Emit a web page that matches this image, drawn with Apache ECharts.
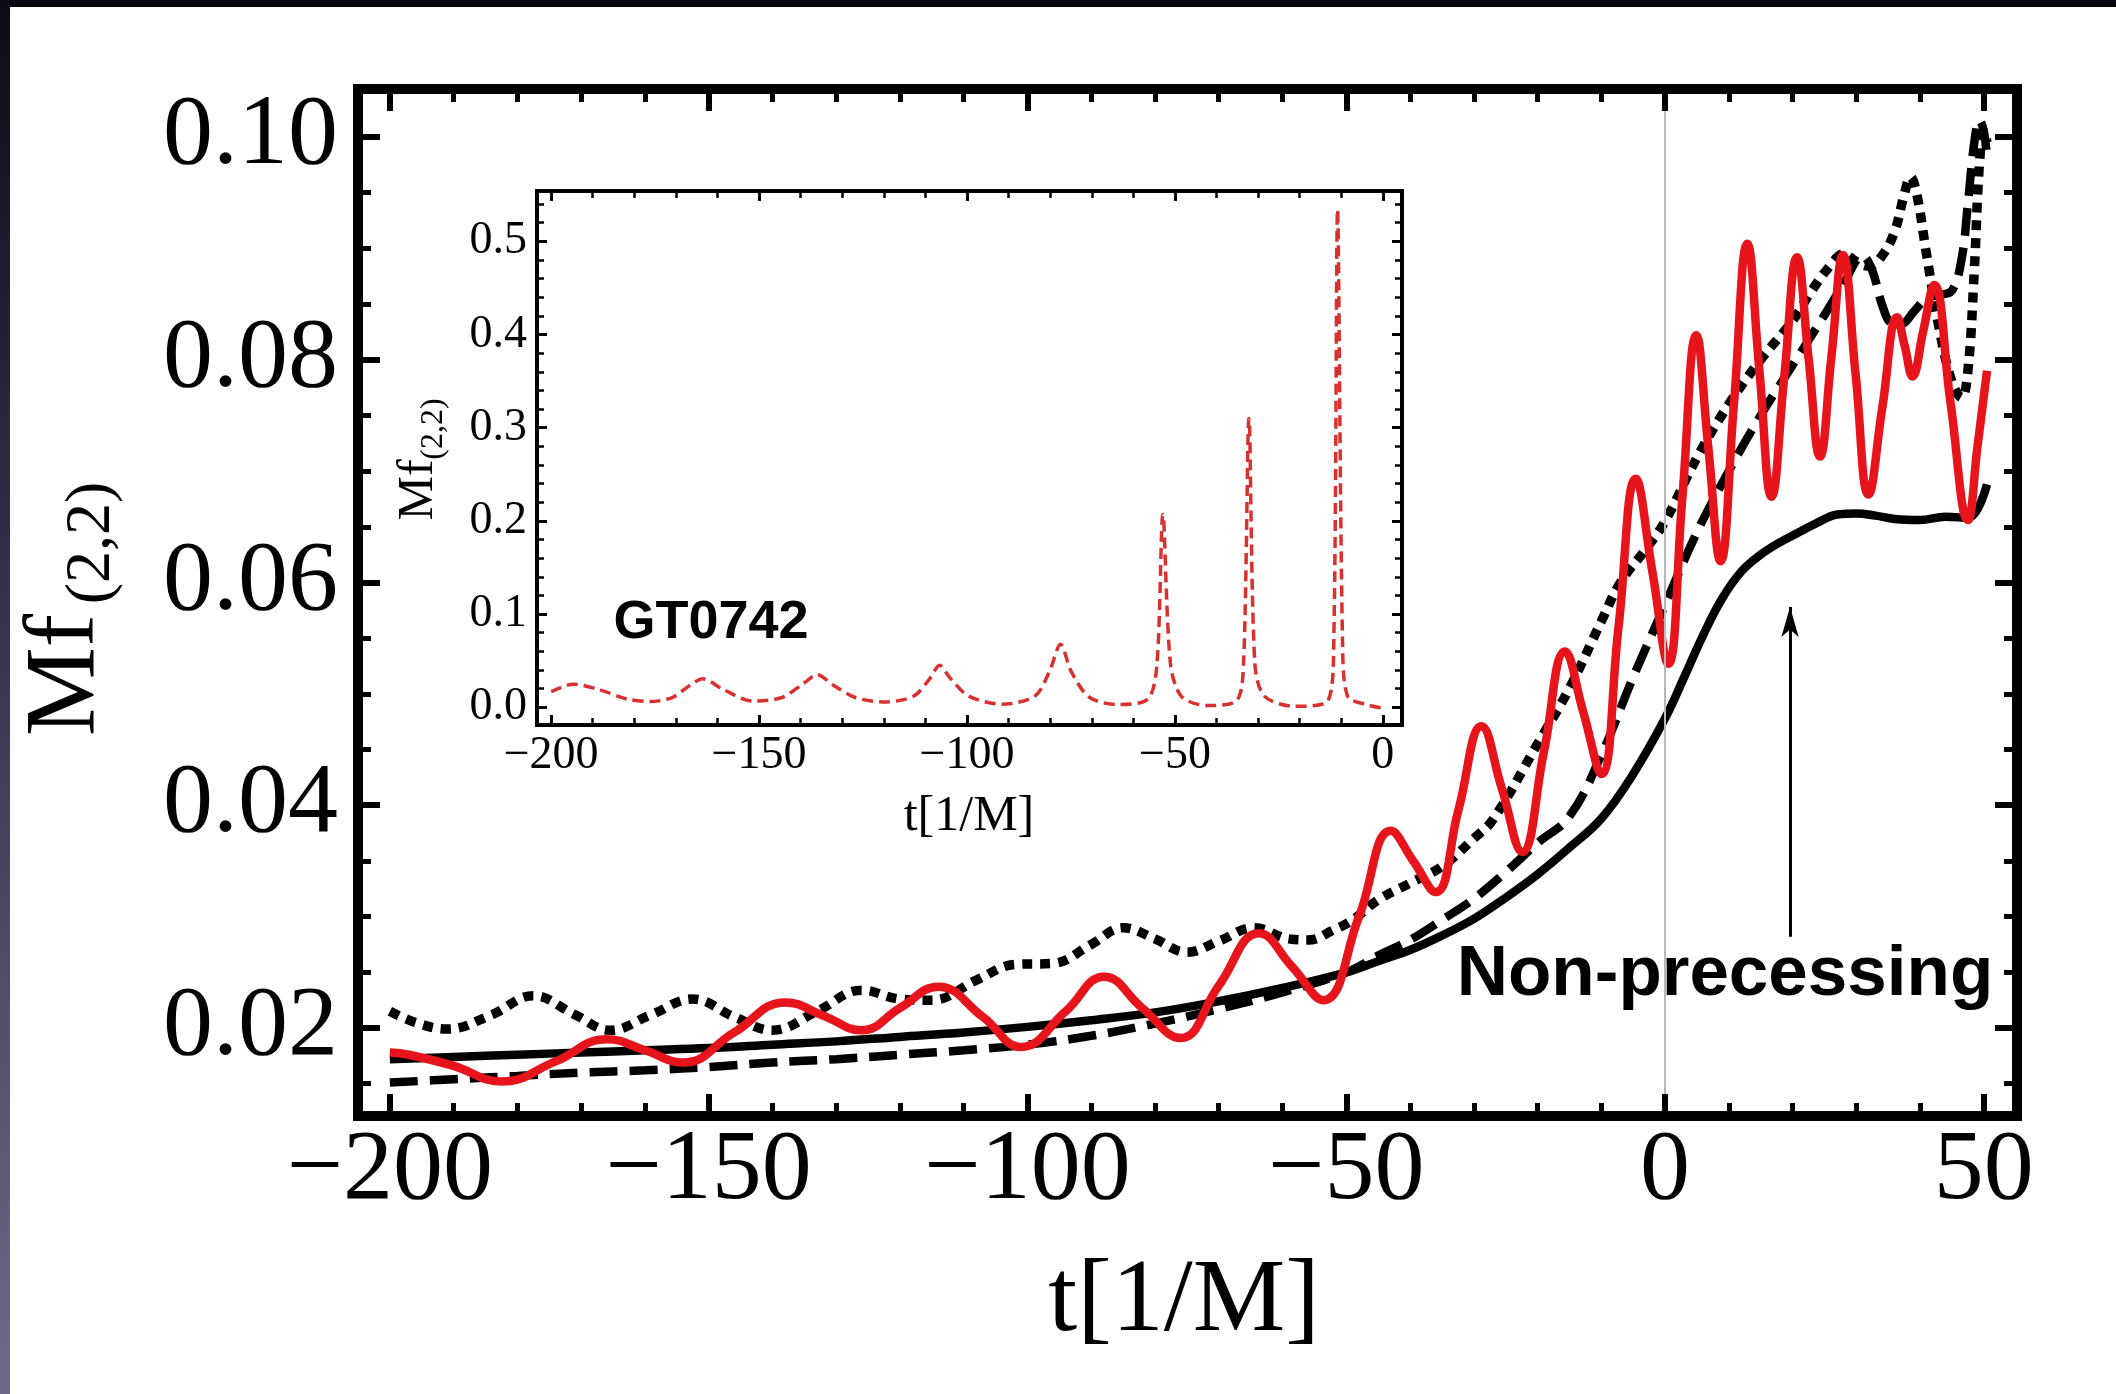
<!DOCTYPE html>
<html><head><meta charset="utf-8">
<script src="https://cdn.jsdelivr.net/npm/echarts@6/dist/echarts.min.js"></script>
<style>html,body{margin:0;padding:0;background:#fff;} #c{width:2116px;height:1394px;}</style>
</head><body><div id="c"></div>
<script>
// ---------- tick labels ----------
const mainXTicks = [-200, -150, -100, -50, 0, 50];
const mainYTicks = [0.02, 0.04, 0.06, 0.08, 0.10];
const insetXTicks = [-200, -150, -100, -50, 0];
const insetYTicks = [0.0, 0.1, 0.2, 0.3, 0.4, 0.5];

// ---------- main series (t, Mf) ----------
const solidT = [-200,-190,-180,-170,-160,-150,-140,-130,-120,-110,-100,-90,-80,-70,-60,-50,-45,-40,-35,-30,-25,-20,-15,-10,-5,0,3,6,9,12,15,18,21,24,27,30,33,36,40,44,47.5,50.5];
const solidF = [0.0172,0.0174,0.0176,0.0178,0.0180,0.0182,0.0185,0.0188,0.0192,0.0196,0.0201,0.0207,0.0214,0.0224,0.0236,0.0250,0.0260,0.0270,0.0283,0.0298,0.0317,0.0338,0.0362,0.0388,0.0428,0.0478,0.0515,0.0553,0.0586,0.0610,0.0625,0.0636,0.0645,0.0654,0.0661,0.0662,0.0660,0.0657,0.0656,0.0659,0.0658,0.0688];

const dashedT = [-200,-190,-180,-170,-160,-150,-140,-130,-120,-110,-100,-90,-80,-70,-60,-50,-45,-40,-35,-30,-25,-20,-15,-10,-5,0,5,10,15,20,25,28,31,32.5,34,35.5,37,39,41,43,45,46.5,47.5,48.5,49.3,50,50.5];
const dashedF = [0.0151,0.0154,0.0157,0.0160,0.0162,0.0165,0.0169,0.0172,0.0176,0.0180,0.0185,0.0193,0.0204,0.0217,0.0232,0.0250,0.0265,0.0279,0.0297,0.0316,0.0340,0.0366,0.0390,0.0445,0.0515,0.0580,0.0645,0.0700,0.0750,0.0795,0.0840,0.0868,0.0893,0.0880,0.0850,0.0833,0.0832,0.0843,0.0855,0.0858,0.0862,0.0890,0.0940,0.0995,0.1015,0.1005,0.0980];

const dottedT = [-200,-196,-191,-184,-177.5,-171,-165.5,-159,-152.5,-146,-140,-133,-126,-120,-115,-108,-102,-96,-90,-85,-80,-75,-70,-64.5,-59,-56,-52,-49,-45,-40,-35,-30,-27,-20,-15,-10,-7,-3,0,5,10,15,20,23,26,28,30,32,34,36,37.5,38.5,39.5,41,43,45,46.5,47.5,48.5,49.3,50,50.5];
const dottedF = [0.0215,0.0205,0.0199,0.0212,0.0229,0.0212,0.0198,0.0212,0.0226,0.0210,0.0198,0.0215,0.0234,0.0226,0.0225,0.0243,0.0257,0.0258,0.0275,0.0290,0.0280,0.0268,0.0278,0.0290,0.0280,0.0279,0.0288,0.0297,0.0315,0.0330,0.0345,0.0370,0.0387,0.0455,0.0505,0.0565,0.0600,0.0630,0.0655,0.0712,0.0760,0.0800,0.0835,0.0862,0.0885,0.0895,0.0888,0.0884,0.0893,0.0915,0.0948,0.0964,0.0948,0.0895,0.0828,0.0780,0.0766,0.0790,0.0880,0.0975,0.1005,0.0995];

const redT = [-200,-197,-190,-182.5,-174,-166,-160,-154,-146,-138,-132,-126,-120,-114,-107,-101,-94,-88,-82,-76,-70,-63.7,-58.5,-53.6,-48,-43,-39.5,-36,-32.4,-28.8,-25.6,-22.4,-19,-15.7,-12.8,-10,-7.3,-4.6,-2,0.5,2.7,4.9,6.8,8.7,10.8,12.9,14.8,16.7,18.7,20.7,22.5,24.3,26.1,27.9,29.9,31.9,34.1,36.4,37.6,38.8,40.5,42.2,44.8,47.5,49,50.5];
const redF = [0.0178,0.0176,0.0166,0.0152,0.0170,0.0190,0.0180,0.0169,0.0196,0.0223,0.0211,0.0198,0.0218,0.0237,0.0210,0.0183,0.0215,0.0246,0.0218,0.0191,0.0238,0.0285,0.0255,0.0225,0.0300,0.0377,0.0350,0.0322,0.0396,0.0471,0.0415,0.0358,0.0448,0.0538,0.0483,0.0428,0.0560,0.0693,0.0610,0.0527,0.0675,0.0822,0.0720,0.0619,0.0760,0.0904,0.0790,0.0677,0.0785,0.0892,0.0802,0.0713,0.0803,0.0894,0.0786,0.0679,0.0758,0.0838,0.0812,0.0785,0.0826,0.0867,0.0760,0.0656,0.0722,0.0790];

// ---------- inset series (GT0742) ----------
const insetT = [-200,-194.7,-188.5,-181.5,-176.2,-170.9,-166.5,-163.5,-158.6,-151.5,-144.5,-139.2,-136,-132.2,-126.9,-119.8,-112.8,-108.9,-106.6,-104,-99.6,-91.6,-83.7,-80.2,-77.5,-74.9,-70.5,-63.4,-56.4,-54.3,-52.9,-51.1,-48.5,-42.3,-35.2,-33.5,-32.2,-30.8,-28.5,-21.1,-13.2,-11.8,-10.9,-9.7,-8.5,-3.5,0];
const insetF = [0.0167,0.0248,0.0190,0.0086,0.0062,0.0105,0.0240,0.0305,0.0190,0.0067,0.0105,0.0260,0.0350,0.0240,0.0105,0.0057,0.0120,0.0310,0.0450,0.0310,0.0120,0.0033,0.0120,0.0380,0.0676,0.0380,0.0105,0.0029,0.0095,0.0476,0.2070,0.0476,0.0120,0.0019,0.0071,0.0476,0.3100,0.0476,0.0120,0.0010,0.0071,0.0714,0.5340,0.0714,0.0120,0.0024,-0.0010];

// ---------- annotation ----------
const zeroLineT = 0;
const arrowT = 19.6;
const arrowFrom = 0.0282;
const arrowTo = 0.0578;

const pairs = (t, f) => t.map((v, i) => [v, f[i]]);
function range(a, b, s) { const r = []; for (let v = a; v <= b + 1e-9; v += s) r.push(+v.toFixed(6)); return r; }

const SERIF = '"Liberation Serif", "Times New Roman", serif';
const SANS = '"Liberation Sans", Arial, sans-serif';

const M = { xmin: -205.0, xmax: 55.2, ymin: 0.0121, ymax: 0.1043 };
const I = { xmin: -203.4, xmax: 4.6, ymin: -0.019, ymax: 0.554 };

const mainXMinor = range(-200, 50, 10);
const mainYMinor = range(0.015, 0.100, 0.005);
const insetXMinor = range(-200, 0, 10);
const insetYMinor = range(0.0, 0.54, 0.02);

const fmtX = v => (v < 0 ? '\u2212' + Math.abs(v) : String(v));

function axis(kind, gi, pos, rng, vals, len, o) {
  const a = {
    type: 'value', gridIndex: gi, position: pos,
    min: kind === 'x' ? rng.xmin : rng.ymin,
    max: kind === 'x' ? rng.xmax : rng.ymax,
    splitLine: { show: false },
    axisLine: { show: !!o.line, onZero: false, lineStyle: { color: '#000', width: o.lw || 1, cap: 'square' } },
    axisTick: { show: true, inside: true, length: len, customValues: vals, lineStyle: { color: '#000', width: o.tw } },
    axisLabel: { show: false },
    z: 5
  };
  if (o.label) {
    a.axisLabel = Object.assign({ show: true, customValues: vals, color: '#000', fontFamily: SERIF }, o.label);
  }
  return a;
}

const xAxes = [
  axis('x', 0, 'bottom', M, mainXTicks, 22, { line: true, lw: 10, tw: 6, label: { fontSize: 100, margin: 6, formatter: fmtX } }),
  axis('x', 0, 'bottom', M, mainXMinor, 13, { tw: 5 }),
  axis('x', 0, 'top', M, mainXTicks, 22, { line: true, lw: 10, tw: 6 }),
  axis('x', 0, 'top', M, mainXMinor, 13, { tw: 5 }),
  axis('x', 1, 'bottom', I, insetXTicks, 10, { line: true, lw: 4, tw: 3, label: { fontSize: 46, margin: 8, formatter: fmtX } }),
  axis('x', 1, 'bottom', I, insetXMinor, 7, { tw: 2.5 }),
  axis('x', 1, 'top', I, insetXTicks, 10, { line: true, lw: 4, tw: 3 }),
  axis('x', 1, 'top', I, insetXMinor, 7, { tw: 2.5 })
];
const yAxes = [
  axis('y', 0, 'left', M, mainYTicks, 22, { line: true, lw: 10, tw: 6, label: { fontSize: 100, margin: 20, formatter: v => v.toFixed(2) } }),
  axis('y', 0, 'left', M, mainYMinor, 13, { tw: 5 }),
  axis('y', 0, 'right', M, mainYTicks, 22, { line: true, lw: 10, tw: 6 }),
  axis('y', 0, 'right', M, mainYMinor, 13, { tw: 5 }),
  axis('y', 1, 'left', I, insetYTicks, 10, { line: true, lw: 4, tw: 3, label: { fontSize: 46, margin: 10, formatter: v => v.toFixed(1) } }),
  axis('y', 1, 'left', I, insetYMinor, 7, { tw: 2.5 }),
  axis('y', 1, 'right', I, insetYTicks, 10, { line: true, lw: 4, tw: 3 }),
  axis('y', 1, 'right', I, insetYMinor, 7, { tw: 2.5 })
];

const chart = echarts.init(document.getElementById('c'), null, { renderer: 'canvas' });
chart.setOption({
  animation: false,
  backgroundColor: '#ffffff',
  grid: [
    { left: 358, top: 89, width: 1659, height: 1027, show: true, backgroundColor: '#fff', borderWidth: 0, containLabel: false, outerBoundsMode: 'none' },
    { left: 537, top: 191, width: 865, height: 534, show: true, backgroundColor: '#fff', borderWidth: 0, containLabel: false, outerBoundsMode: 'none', z: 3 }
  ],
  xAxis: xAxes,
  yAxis: yAxes,
  series: [
    { type: 'line', name: 'non-precessing', xAxisIndex: 0, yAxisIndex: 0, data: pairs(solidT, solidF), smooth: 0.4, symbol: 'none', z: 2,
      lineStyle: { color: '#000', width: 8.5 },
      markLine: { silent: true, symbol: 'none', label: { show: false }, lineStyle: { color: '#b8b8b8', width: 2, type: 'solid' }, data: [{ xAxis: zeroLineT }] } },
    { type: 'line', name: 'dashed', xAxisIndex: 0, yAxisIndex: 0, data: pairs(dashedT, dashedF), smooth: 0.4, symbol: 'none', z: 3,
      lineStyle: { color: '#000', width: 8.5, type: [28, 12] } },
    { type: 'line', name: 'dotted', xAxisIndex: 0, yAxisIndex: 0, data: pairs(dottedT, dottedF), smooth: 0.4, symbol: 'none', z: 3,
      lineStyle: { color: '#000', width: 9.5, type: [10, 8] } },
    { type: 'line', name: 'precessing', xAxisIndex: 0, yAxisIndex: 0, data: pairs(redT, redF), smooth: 0.45, symbol: 'none', z: 4,
      lineStyle: { color: '#e8141b', width: 8.5 },
      markLine: { silent: true, symbol: ['none', 'arrow'], symbolSize: [13, 30], label: { show: false },
        lineStyle: { color: '#000', width: 3, type: 'solid' },
        data: [[{ coord: [arrowT, arrowFrom] }, { coord: [arrowT, arrowTo] }]] } },
    { type: 'line', name: 'GT0742', xAxisIndex: 4, yAxisIndex: 4, data: pairs(insetT, insetF), smooth: 0.3, symbol: 'none', z: 6,
      lineStyle: { color: '#d93030', width: 3.5, type: [11, 6] } }
  ],
  graphic: [
    { type: 'rect', shape: { x: 0, y: 0, width: 2116, height: 7 }, style: { fill: '#06060c' }, z: 100 },
    { type: 'rect', shape: { x: 0, y: 0, width: 10, height: 1394 },
      style: { fill: new echarts.graphic.LinearGradient(0, 0, 0, 1, [{ offset: 0, color: '#0c0c18' }, { offset: 0.4, color: '#30304a' }, { offset: 1, color: '#6c6c88' }]) }, z: 100 },
    { type: 'text', x: 67, y: 675, rotation: Math.PI / 2, z: 50,
      style: { text: 'Mf', font: '100px ' + SERIF, fill: '#000', textAlign: 'center', textVerticalAlign: 'middle' } },
    { type: 'text', x: 92, y: 543, rotation: Math.PI / 2, z: 50,
      style: { text: '(2,2)', font: '64px ' + SERIF, fill: '#000', textAlign: 'center', textVerticalAlign: 'middle' } },
    { type: 'text', x: 1184, y: 1303, z: 50,
      style: { text: 't[1/M]', font: '104px ' + SERIF, fill: '#000', textAlign: 'center', textVerticalAlign: 'middle' } },
    { type: 'text', x: 419, y: 490, rotation: Math.PI / 2, z: 50,
      style: { text: 'Mf', font: '50px ' + SERIF, fill: '#000', textAlign: 'center', textVerticalAlign: 'middle' } },
    { type: 'text', x: 434, y: 429, rotation: Math.PI / 2, z: 50,
      style: { text: '(2,2)', font: '32px ' + SERIF, fill: '#000', textAlign: 'center', textVerticalAlign: 'middle' } },
    { type: 'text', x: 969, y: 817, z: 50,
      style: { text: 't[1/M]', font: '50px ' + SERIF, fill: '#000', textAlign: 'center', textVerticalAlign: 'middle' } },
    { type: 'text', x: 711, y: 623, z: 50,
      style: { text: 'GT0742', font: 'bold 54px ' + SANS, fill: '#000', textAlign: 'center', textVerticalAlign: 'middle' } },
    { type: 'text', x: 1725, y: 975, z: 50,
      style: { text: 'Non-precessing', font: 'bold 71px ' + SANS, fill: '#000', textAlign: 'center', textVerticalAlign: 'middle' } }
  ]
});
</script></body></html>
